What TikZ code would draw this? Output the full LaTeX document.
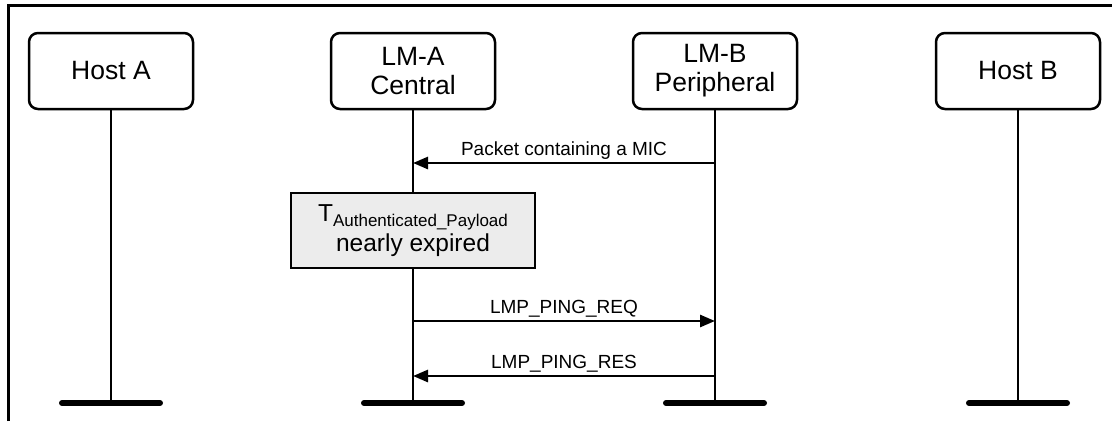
\documentclass[tikz,border=0pt]{standalone}
\usepackage{fontspec}
\setmainfont{Liberation Sans}
\usetikzlibrary{arrows.meta,positioning}

\tikzset{
  head/.style={draw,line width=2.5pt,rounded corners=9pt,minimum width=164pt,
    minimum height=76pt,align=center,inner sep=0pt,
    font=\fontsize{26.5}{29}\selectfont},
  life/.style={line width=2.7pt},
  foot/.style={line width=6pt,line cap=round},
  msg/.style={line width=2.7pt,-{Triangle[length=15pt,width=12pt]}},
  msglabel/.style={font=\fontsize{19}{22}\selectfont,anchor=base,yshift=8pt,pos=0.5},
  timer/.style={draw,line width=2.5pt,fill=gray!15,minimum width=244pt,
    minimum height=75pt,align=center,inner sep=0pt,
    font=\fontsize{24.5}{30}\selectfont}
}

\begin{document}
\begin{tikzpicture}[x=1pt,y=-1pt]
    \useasboundingbox (0,0) rectangle (1112,421);
    % frame
    \draw[line width=3pt] (8,421) -- (8,5) -- (1112,5);
%
    \node[head] (hosta) at (111,71) {Host A};
    \node[head] (lma) at (413,71) {LM-A\\Central};
    \node[head] (lmb) at (715,71) {LM-B\\Peripheral};
    \node[head] (hostb) at (1018,71) {Host B};
%
    \coordinate (hostaend) at (111,403);
    \coordinate (lmaend) at (413,403);
    \coordinate (lmbend) at (715,403);
    \coordinate (hostbend) at (1018,403);
    \foreach \n in {hosta,lma,lmb,hostb} {
        \draw[life] (\n) -- (\n end);
        \draw[foot] ([xshift=-49pt]\n end) -- ([xshift=49pt]\n end);
    }
%
    \node[timer] (tap) at (413,230.5)
        {T{\fontsize{17}{20}\selectfont\raisebox{-5pt}{Authenticated\_Payload}}\\nearly expired};
%
    \coordinate (mic1) at (715,163);
    \coordinate (mic2) at (413,163);
    \draw[msg] (mic1) -- (mic2)
        node[msglabel] {Packet containing a MIC};
    \coordinate (req1) at (413,321);
    \coordinate (req2) at (715,321);
    \draw[msg] (req1) -- (req2)
        node[msglabel] {LMP\_PING\_REQ};
    \coordinate (res1) at (715,376);
    \coordinate (res2) at (413,376);
    \draw[msg] (res1) -- (res2)
        node[msglabel] {LMP\_PING\_RES};
\end{tikzpicture}
\end{document}
